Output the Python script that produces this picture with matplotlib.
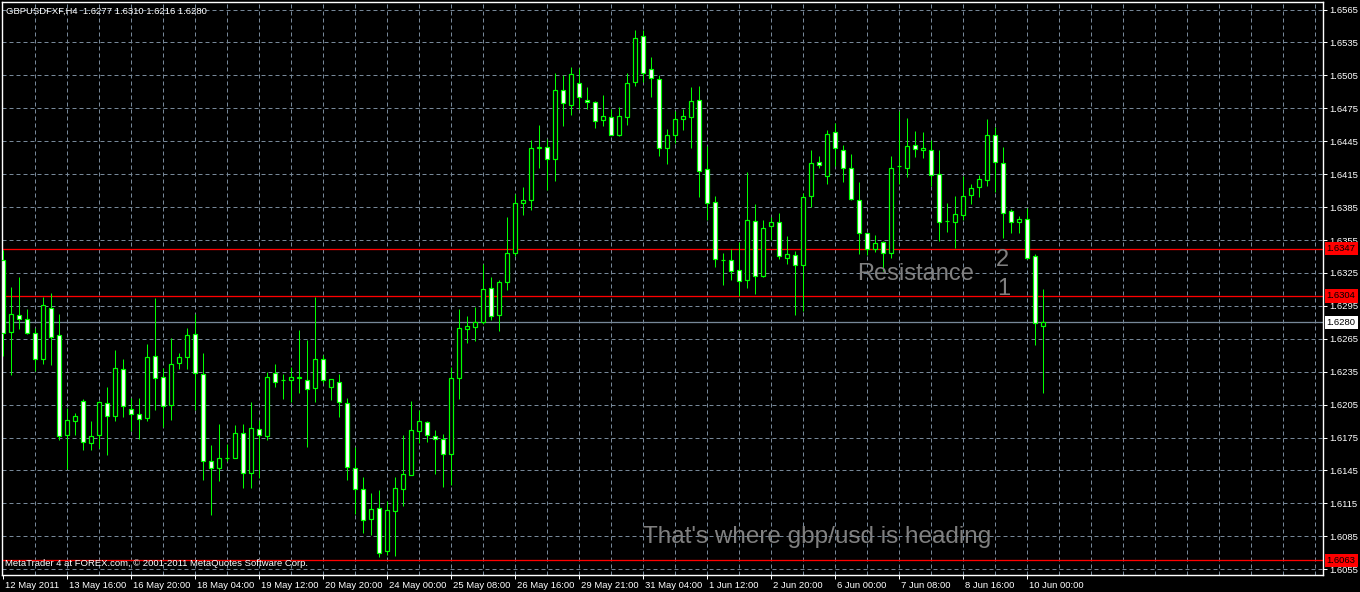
import matplotlib
matplotlib.use("Agg")
import matplotlib.pyplot as plt
import matplotlib.transforms as mtransforms

plt.rcParams['font.family'] = ['Liberation Sans', 'DejaVu Sans']

# GBPUSD H4 candles, 12 May 2011 .. 10 Jun 2011
opens = [1.6337, 1.6271, 1.6287, 1.6283, 1.6270, 1.6247, 1.6293, 1.6268, 1.6177, 1.6190,
         1.6208, 1.6170, 1.6177, 1.6206, 1.6195, 1.6237, 1.6201, 1.6196, 1.6193, 1.6249,
         1.6230, 1.6205, 1.6243, 1.6248, 1.6269, 1.6233, 1.6154, 1.6147, 1.6156, 1.6156,
         1.6179, 1.6143, 1.6183, 1.6176, 1.6234, 1.6227, 1.6227, 1.6229, 1.6227, 1.6220,
         1.6247, 1.6221, 1.6226, 1.6206, 1.6147, 1.6128, 1.6101, 1.6111, 1.6072, 1.6108,
         1.6128, 1.6141, 1.6181, 1.6189, 1.6176, 1.6174, 1.6160, 1.6229, 1.6274, 1.6276,
         1.6280, 1.6311, 1.6287, 1.6317, 1.6343, 1.6389, 1.6391, 1.6439, 1.6440, 1.6429,
         1.6492, 1.6478, 1.6498, 1.6483, 1.6481, 1.6464, 1.6467, 1.6451, 1.6467, 1.6499,
         1.6541, 1.6511, 1.6502, 1.6439, 1.6451, 1.6465, 1.6467, 1.6483, 1.6420, 1.6390,
         1.6337, 1.6337, 1.6328, 1.6319, 1.6372, 1.6322, 1.6368, 1.6371, 1.6339, 1.6341,
         1.6332, 1.6395, 1.6426, 1.6413, 1.6453, 1.6437, 1.6421, 1.6391, 1.6361, 1.6347,
         1.6353, 1.6343, 1.6422, 1.6421, 1.6442, 1.6437, 1.6437, 1.6415, 1.6372, 1.6371,
         1.6378, 1.6396, 1.6403, 1.6410, 1.6451, 1.6425, 1.6381, 1.6371, 1.6374, 1.6340,
         1.6277]
highs = [1.6346, 1.6312, 1.6321, 1.6292, 1.6275, 1.6303, 1.6307, 1.6288, 1.6202, 1.6197,
         1.6210, 1.6190, 1.6208, 1.6221, 1.6255, 1.6247, 1.6211, 1.6211, 1.6260, 1.6302,
         1.6238, 1.6266, 1.6252, 1.6275, 1.6288, 1.6252, 1.6168, 1.6187, 1.6169, 1.6186,
         1.6187, 1.6207, 1.6191, 1.6235, 1.6242, 1.6233, 1.6239, 1.6273, 1.6264, 1.6303,
         1.6250, 1.6228, 1.6233, 1.6211, 1.6166, 1.6139, 1.6124, 1.6127, 1.6117, 1.6139,
         1.6177, 1.6208, 1.6200, 1.6190, 1.6182, 1.6178, 1.6239, 1.6292, 1.6286, 1.6294,
         1.6333, 1.6321, 1.6319, 1.6376, 1.6397, 1.6403, 1.6446, 1.6460, 1.6447, 1.6507,
         1.6505, 1.6513, 1.6512, 1.6494, 1.6482, 1.6487, 1.6474, 1.6476, 1.6507, 1.6546,
         1.6546, 1.6522, 1.6505, 1.6456, 1.6473, 1.6474, 1.6494, 1.6495, 1.6441, 1.6395,
         1.6343, 1.6347, 1.6353, 1.6417, 1.6388, 1.6373, 1.6376, 1.6380, 1.6359, 1.6345,
         1.6398, 1.6437, 1.6432, 1.6455, 1.6462, 1.6442, 1.6433, 1.6408, 1.6361, 1.6360,
         1.6354, 1.6432, 1.6473, 1.6466, 1.6454, 1.6453, 1.6446, 1.6437, 1.6389, 1.6395,
         1.6413, 1.6406, 1.6414, 1.6465, 1.6458, 1.6440, 1.6383, 1.6377, 1.6384, 1.6342,
         1.6310]
lows = [1.6249, 1.6232, 1.6274, 1.6269, 1.6236, 1.6242, 1.6241, 1.6173, 1.6146, 1.6177,
        1.6164, 1.6164, 1.6165, 1.6159, 1.6190, 1.6194, 1.6181, 1.6174, 1.6190, 1.6200,
        1.6185, 1.6191, 1.6237, 1.6237, 1.6200, 1.6136, 1.6104, 1.6135, 1.6154, 1.6156,
        1.6129, 1.6129, 1.6138, 1.6173, 1.6221, 1.6210, 1.6207, 1.6216, 1.6166, 1.6207,
        1.6225, 1.6209, 1.6194, 1.6136, 1.6105, 1.6088, 1.6086, 1.6066, 1.6068, 1.6067,
        1.6113, 1.6141, 1.6170, 1.6171, 1.6142, 1.6130, 1.6132, 1.6210, 1.6261, 1.6263,
        1.6278, 1.6282, 1.6272, 1.6309, 1.6340, 1.6378, 1.6382, 1.6421, 1.6401, 1.6409,
        1.6459, 1.6469, 1.6474, 1.6474, 1.6457, 1.6459, 1.6451, 1.6450, 1.6460, 1.6495,
        1.6499, 1.6485, 1.6432, 1.6424, 1.6443, 1.6455, 1.6439, 1.6394, 1.6373, 1.6330,
        1.6314, 1.6319, 1.6304, 1.6311, 1.6306, 1.6321, 1.6355, 1.6338, 1.6333, 1.6287,
        1.6290, 1.6385, 1.6421, 1.6406, 1.6422, 1.6408, 1.6391, 1.6342, 1.6341, 1.6344,
        1.6327, 1.6339, 1.6406, 1.6412, 1.6431, 1.6430, 1.6404, 1.6354, 1.6362, 1.6348,
        1.6373, 1.6388, 1.6394, 1.6404, 1.6399, 1.6357, 1.6361, 1.6361, 1.6338, 1.6259,
        1.6216]
closes = [1.6270, 1.6288, 1.6283, 1.6270, 1.6247, 1.6296, 1.6267, 1.6176, 1.6191, 1.6195,
          1.6171, 1.6176, 1.6207, 1.6195, 1.6238, 1.6204, 1.6196, 1.6192, 1.6248, 1.6229,
          1.6204, 1.6242, 1.6248, 1.6268, 1.6234, 1.6154, 1.6147, 1.6156, 1.6156, 1.6179,
          1.6143, 1.6184, 1.6177, 1.6230, 1.6226, 1.6227, 1.6230, 1.6230, 1.6219, 1.6247,
          1.6227, 1.6228, 1.6207, 1.6148, 1.6128, 1.6100, 1.6110, 1.6070, 1.6109, 1.6129,
          1.6142, 1.6182, 1.6190, 1.6177, 1.6174, 1.6160, 1.6229, 1.6275, 1.6277, 1.6280,
          1.6310, 1.6286, 1.6317, 1.6343, 1.6389, 1.6391, 1.6439, 1.6440, 1.6429, 1.6492,
          1.6480, 1.6506, 1.6485, 1.6481, 1.6463, 1.6468, 1.6451, 1.6468, 1.6498, 1.6539,
          1.6507, 1.6503, 1.6439, 1.6451, 1.6465, 1.6468, 1.6482, 1.6418, 1.6389, 1.6338,
          1.6337, 1.6327, 1.6318, 1.6373, 1.6322, 1.6366, 1.6371, 1.6340, 1.6342, 1.6332,
          1.6394, 1.6425, 1.6423, 1.6452, 1.6439, 1.6421, 1.6392, 1.6361, 1.6347, 1.6352,
          1.6343, 1.6421, 1.6422, 1.6441, 1.6438, 1.6439, 1.6414, 1.6371, 1.6372, 1.6379,
          1.6395, 1.6402, 1.6411, 1.6451, 1.6426, 1.6380, 1.6371, 1.6374, 1.6339, 1.6279,
          1.6280]

date_labels = ['12 May 2011', '13 May 16:00', '16 May 20:00', '18 May 04:00', '19 May 12:00',
               '20 May 20:00', '24 May 00:00', '25 May 08:00', '26 May 16:00', '29 May 21:00',
               '31 May 04:00', '1 Jun 12:00', '2 Jun 20:00', '6 Jun 00:00', '7 Jun 08:00',
               '8 Jun 16:00', '10 Jun 00:00']
price_ticks = [1.6565, 1.6535, 1.6505, 1.6475, 1.6445, 1.6415, 1.6385, 1.6355, 1.6325,
               1.6295, 1.6265, 1.6235, 1.6205, 1.6175, 1.6145, 1.6115, 1.6085, 1.6055]
red_levels = [1.6347, 1.6304, 1.6063]
bid = 1.6280
header = 'GBPUSDFXF,H4  1.6277 1.6310 1.6216 1.6280'
footer = 'MetaTrader 4 at FOREX.com, \u00a9 2001-2011 MetaQuotes Software Corp.'

GREEN = '#00ff00'
GRID = '#778899'
PX = 0.72  # one pixel in points at 100 dpi

fig = plt.figure(figsize=(13.6, 5.92), dpi=100, facecolor='black')
ax = fig.add_axes([2 / 1360, 17 / 592, 1321 / 1360, 573 / 592])
ax.set_facecolor('black')
ax.set_xlim(-0.1625, 164.96)
ax.set_ylim(1.60497, 1.65719)

# dashed grid
for p in price_ticks:
    ax.axhline(p, color=GRID, lw=PX, dashes=(4, 3), zorder=1)
for k in range(4, 165, 4):
    ax.axvline(k, color=GRID, lw=PX, dashes=(4, 3), zorder=1)

# level lines
for lv in red_levels:
    ax.axhline(lv, color='red', lw=1.3 * PX, zorder=2)
ax.axhline(bid, color=GRID, lw=1.3 * PX, zorder=2)

# candles
xs = list(range(len(opens)))
ax.vlines(xs, lows, highs, color=GREEN, lw=PX, zorder=3)
bottoms = [min(o, c) for o, c in zip(opens, closes)]
heights = [abs(c - o) for o, c in zip(opens, closes)]
fills = ['white' if c < o else 'black' for o, c in zip(opens, closes)]
ax.bar(xs, heights, bottom=bottoms, width=0.5, color=fills, edgecolor=GREEN,
       linewidth=1.2 * PX, zorder=4)

# frame
for s in ax.spines.values():
    s.set_color('white')
    s.set_linewidth(1.4 * PX)

# time axis
ax.set_xticks(range(0, 8 * len(date_labels), 8))
ax.set_xticklabels(date_labels, ha='left')
ax.tick_params(axis='x', colors='white', length=3, width=PX, pad=1.5, labelsize=6.8)
offset = mtransforms.ScaledTranslation(0.015, 0, fig.dpi_scale_trans)
for lab in ax.get_xticklabels():
    lab.set_transform(lab.get_transform() + offset)

# price axis
ax.yaxis.tick_right()
ax.set_yticks(price_ticks)
ax.set_yticklabels(['%.4f' % p for p in price_ticks])
ax.tick_params(axis='y', colors='white', length=3, width=PX, pad=1.8, labelsize=6.8)

blend = mtransforms.blended_transform_factory(ax.transAxes, ax.transData)
for lv in red_levels:
    ax.text(1.0028, lv, '%.4f' % lv, transform=blend, ha='left', va='center',
            fontsize=6.8, color='black', clip_on=False, zorder=10,
            bbox=dict(boxstyle='square,pad=0.22', fc='red', ec='none'))
ax.text(1.0028, bid, '%.4f' % bid, transform=blend, ha='left', va='center',
        fontsize=6.8, color='black', clip_on=False, zorder=10,
        bbox=dict(boxstyle='square,pad=0.22', fc='white', ec='none'))

# texts
fig.text(6 / 1360, 1 - 11 / 592, header, color='white', fontsize=6.8, va='center')
fig.text(5 / 1360, 1 - 564 / 592, footer, color='white', fontsize=6.8, va='center')

ANN = '#808080'
ax.text(106.7, 1.6324, 'Resistance', color=ANN, fontsize=17, va='center', ha='left')
ax.text(124.1, 1.63368, '2', color=ANN, fontsize=17, va='center', ha='left')
ax.text(124.3, 1.63103, '1', color=ANN, fontsize=17, va='center', ha='left')
ax.text(79.96, 1.60844, "That's where gbp/usd is heading", color=ANN, fontsize=17.5,
        va='center', ha='left')

fig.savefig('out.png', dpi=100, facecolor='black')
